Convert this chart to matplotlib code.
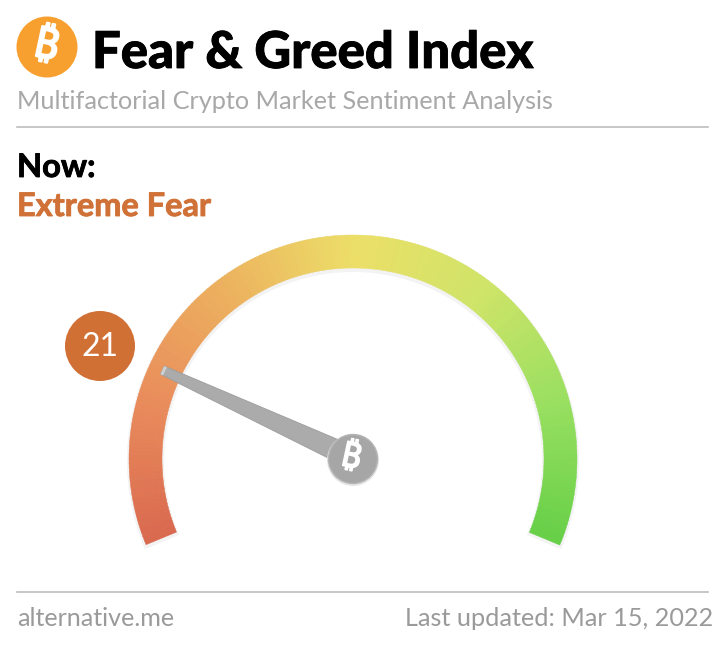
import matplotlib
matplotlib.use("Agg")
import matplotlib.pyplot as plt
import matplotlib.patheffects as pe
import numpy as np
from matplotlib.colors import LinearSegmentedColormap
from matplotlib.patches import Circle, Polygon, Wedge

# The values shown on the gauge
index_value = 21
label_now = "Now:"
label_class = "Extreme Fear"
title = "Fear & Greed Index"
subtitle = "Multifactorial Crypto Market Sentiment Analysis"
site = "alternative.me"
updated = "Last updated: Mar 15, 2022"

# Gauge colours from 0 to 100
gauge_colors = ["#d9694f", "#e98c5c", "#ecb15e", "#ecdf68", "#cfe468", "#98df60", "#66cf47"]

plt.rcParams["font.family"] = ["Lato", "Noto Sans", "DejaVu Sans"]

fig = plt.figure(figsize=(7.24, 6.5), dpi=100)
ax = fig.add_axes([0, 0, 1, 1])
ax.set_xlim(0, 724)
ax.set_ylim(650, 0)
ax.axis("off")

cx, cy = 353, 459
outer, inner = 224, 191
start, end = 202.5, -22.5


def to_angle(v):
    return start + (end - start) * v / 100


def gauge_wedge(a1, a2, r, w, **kw):
    # y axis runs downward so the angles get flipped
    return Wedge((cx, cy), r, -a1, -a2, width=w, **kw)


cmap = LinearSegmentedColormap.from_list("gauge", gauge_colors)

# soft shadow around the arc
ax.add_patch(Wedge((cx, cy + 2), outer + 2, -start - 0.5, -end + 0.5, width=outer - inner + 4,
                   fc="#f3f3f3", ec="none", zorder=1))

for v in np.arange(0, 100, 0.5):
    ax.add_patch(gauge_wedge(to_angle(v), to_angle(v + 0.5) - 0.1, outer, outer - inner,
                             fc=cmap(v / 100), ec=cmap(v / 100), lw=0.3, zorder=2))

# Needle
theta = np.radians(to_angle(index_value))
d = np.array([np.cos(theta), -np.sin(theta)])
n = np.array([-d[1], d[0]])
c = np.array([cx, cy - 1])
tip = c + d * 210
base = c + d * 20
needle = [tip + n * 4.5, tip - n * 4.5, base - n * 10.5, base + n * 10.5]
ax.add_patch(Polygon(needle, closed=True, fc="#ababab", ec="#9c9c9c", lw=0.6, zorder=3))
ax.add_patch(Polygon([tip + n * 4.5, tip - n * 4.5, tip - n * 4.5 - d * 3, tip + n * 4.5 - d * 3],
                     closed=True, fc="#cfcfcf", ec="none", zorder=3))

# Hub with coin sign
ax.add_patch(Circle((cx, cy + 1), 26, fc="#e6e6e6", ec="none", zorder=3))
ax.add_patch(Circle((cx, cy), 24.5, fc="#a6a6a6", ec="#b5b5b5", lw=1, zorder=4))
ax.text(cx - 2, cy - 1, "\u20bf", fontsize=25, color="white", rotation=-12,
        ha="center", va="center", family=["Noto Sans", "DejaVu Sans"], zorder=5,
        path_effects=[pe.withStroke(linewidth=1.1, foreground="white")])

# Header icon
ax.add_patch(Circle((47, 47), 30.5, fc="#f8a02f", ec="none", zorder=2))
ax.text(46, 47, "\u20bf", fontsize=31, color="white", rotation=-12,
        ha="center", va="center", family=["Noto Sans", "DejaVu Sans"], zorder=3,
        path_effects=[pe.withStroke(linewidth=1.4, foreground="white")])

# Texts
ax.text(92, 68, title, fontsize=36.6, fontweight="black", color="black", ha="left", va="baseline",
        path_effects=[pe.withStroke(linewidth=0.6, foreground="black")])
ax.text(17, 109, subtitle, fontsize=18.2, color="#a8a8a8", ha="left", va="baseline")
ax.text(17, 177, label_now, fontsize=23.5, fontweight="bold", color="black", ha="left", va="baseline",
        path_effects=[pe.withStroke(linewidth=0.6, foreground="black")])
ax.text(17, 216, label_class, fontsize=23.4, fontweight="bold", color="#d07238", ha="left", va="baseline",
        path_effects=[pe.withStroke(linewidth=0.6, foreground="#d07238")])

ax.plot([17, 708], [127, 127], color="#bdbdbd", lw=1.2)
ax.plot([17, 708], [592, 592], color="#bdbdbd", lw=1.2)

ax.text(17, 626, site, fontsize=18.1, color="#9a9a9a", ha="left", va="baseline")
ax.text(713, 626, updated, fontsize=18.2, color="#9a9a9a", ha="right", va="baseline")

# Value bubble
ax.add_patch(Circle((100, 346), 35, fc="#d07035", ec="none", zorder=2))
ax.text(100, 347, str(index_value), fontsize=23, color="white", ha="center", va="center", zorder=3)

fig.savefig("out.png", dpi=100)
